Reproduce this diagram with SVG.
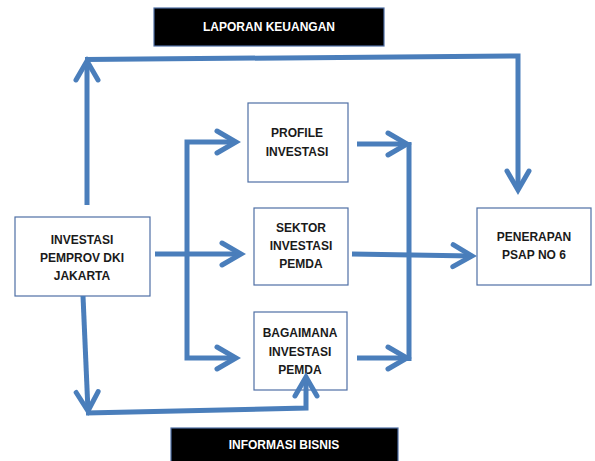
<svg xmlns="http://www.w3.org/2000/svg" width="595" height="461" viewBox="0 0 595 461">
<style>
.box{fill:#fff;stroke:#4f6fa5;stroke-width:1.2}
.lbl{fill:#000;stroke:#4f6fa5;stroke-width:1.2}
.t{font-family:"Liberation Sans",Arial,sans-serif;font-weight:bold;font-size:12px;text-anchor:middle;fill:#1a1a1a}
.w{fill:#fff}
.c{fill:none;stroke:#4a7ebb;stroke-width:5;stroke-linejoin:miter}
</style>
<defs>
<marker id="ah" markerUnits="userSpaceOnUse" orient="auto-start-reverse" refX="0" refY="0" markerWidth="30" markerHeight="30" viewBox="-25 -15 30 30" overflow="visible">
<path d="M-19,-11 L0,0 L-19,11" fill="none" stroke="#4a7ebb" stroke-width="5" stroke-linecap="round" stroke-linejoin="miter"/>
</marker>
</defs>
<g id="laporan"><rect class="lbl" x="154" y="8" width="230" height="38"/><text class="t w" x="269" y="31">LAPORAN KEUANGAN</text></g>
<g id="informasi"><rect class="lbl" x="171" y="428" width="227" height="40"/><text class="t w" x="284" y="449">INFORMASI BISNIS</text></g>
<g id="investasi"><rect class="box" x="15" y="217" width="135" height="79"/><text class="t" x="82" y="244">INVESTASI</text><text class="t" x="82" y="262">PEMPROV DKI</text><text class="t" x="82" y="280">JAKARTA</text></g>
<g id="profile"><rect class="box" x="248" y="103" width="100" height="79"/><text class="t" x="297" y="137">PROFILE</text><text class="t" x="297" y="156">INVESTASI</text></g>
<g id="sektor"><rect class="box" x="254" y="208" width="94" height="77"/><text class="t" x="301" y="232">SEKTOR</text><text class="t" x="301" y="250">INVESTASI</text><text class="t" x="301" y="268">PEMDA</text></g>
<g id="bagaimana"><rect class="box" x="254" y="312" width="93" height="78"/><text class="t" x="300" y="337">BAGAIMANA</text><text class="t" x="300" y="356">INVESTASI</text><text class="t" x="300" y="374">PEMDA</text></g>
<g id="penerapan"><rect class="box" x="477" y="208" width="114" height="77"/><text class="t" x="534" y="241">PENERAPAN</text><text class="t" x="534" y="259">PSAP NO 6</text></g>
<g id="connectors">
<path class="c" d="M87,205 L87,61" marker-end="url(#ah)"/>
<path class="c" d="M85,59.5 L518,56 L518,190" marker-end="url(#ah)"/>
<path class="c" d="M155,254 L241,254" marker-end="url(#ah)"/>
<path class="c" d="M236,142 L187,142 L187,358 L236,358" marker-start="url(#ah)" marker-end="url(#ah)"/>
<path class="c" d="M357,144 L407,144" marker-end="url(#ah)"/>
<path class="c" d="M357,358 L407,358" marker-end="url(#ah)"/>
<path class="c" d="M409,142 L409,361"/>
<path class="c" d="M352,254 L472,256" marker-end="url(#ah)"/>
<path class="c" d="M83,296 L88,411" marker-end="url(#ah)"/>
<path class="c" d="M86,413 L306,408 L306,377" marker-end="url(#ah)"/>
</g>
</svg>
